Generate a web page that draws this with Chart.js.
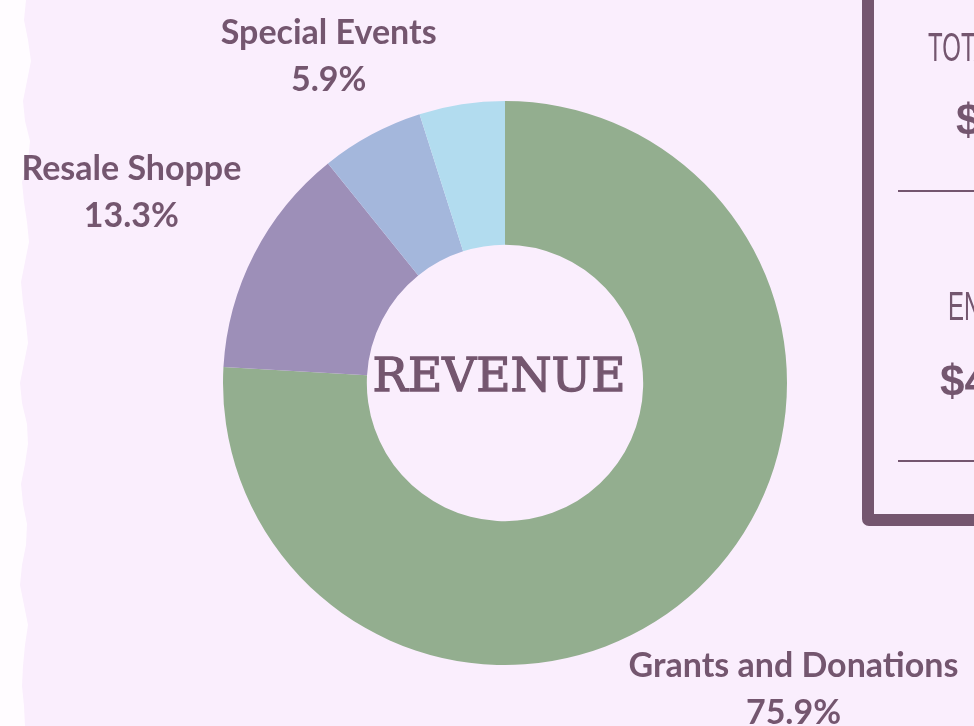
<!DOCTYPE html>
<html>
<head>
<meta charset="utf-8">
<script src="https://cdn.jsdelivr.net/npm/chart.js@4.4.0/dist/chart.umd.min.js"></script>
<style>
  html, body { margin: 0; padding: 0; }
  body { width: 974px; height: 726px; overflow: hidden; background: #faeefd; position: relative; }
  #torn { position: absolute; left: 0; top: 0; width: 40px; height: 726px; background: #fffcff; }
  #wrap { position: absolute; left: 0; top: 0; width: 974px; height: 726px; }
  #box { position: absolute; left: 862px; top: -30px; width: 200px; height: 532px;
         border: 12px solid #74566f; border-radius: 7px; }
  .t { position: absolute; color: #74566f; white-space: nowrap; }
  .thin { font-family: "Liberation Sans", sans-serif; font-size: 40px; transform: scaleX(0.6); transform-origin: left top; font-weight: 300; }
  .money { font-family: "Liberation Sans", sans-serif; font-weight: bold; font-size: 44px; }
  .rule { position: absolute; left: 898px; width: 100px; height: 2px; background: #74566f; }
</style>
</head>
<body>
<div id="torn"></div>
<div id="wrap"><canvas id="chart"></canvas></div>
<div id="box"></div>
<div class="t thin" style="left:928px; top:25px;">TOTAL REVENUE</div>
<div class="t money" style="left:956px; top:95px;">$ 1</div>
<div class="rule" style="top:190px;"></div>
<div class="t thin" style="left:948px; top:284px;">ENDING BALANCE</div>
<div class="t money" style="left:940px; top:356px;">$4</div>
<div class="rule" style="top:460px;"></div>
<script>
// Revenue shares (%)
const categories = ['Grants and Donations', 'Resale Shoppe', 'Special Events', 'Other'];
const values = [75.9, 13.3, 5.9, 4.9];
const showLabel = [true, true, true, false];
const sliceColors = ['#93ae8f', '#9d8fb8', '#a4b7dc', '#b2dcef'];
const centerTitle = 'REVENUE';

// torn paper edge on the left
(function () {
  const xs = [26, 24, 28, 31, 27, 23, 25, 30, 28, 22, 24, 27, 29, 25, 21, 23, 26, 28, 24, 20, 22, 27, 28, 25, 21, 23, 27, 26, 22, 20, 24, 28, 25, 23, 22, 24, 25];
  const step = 726 / (xs.length - 1);
  const pts = ['0 0'];
  xs.forEach((x, i) => pts.push(x + 'px ' + Math.round(i * step) + 'px'));
  pts.push('0 726px');
  document.getElementById('torn').style.clipPath = 'polygon(' + pts.join(',') + ')';
})();

const textColor = '#74566f';

const sliceLabels = {
  id: 'sliceLabels',
  afterDatasetsDraw(chart) {
    const ctx = chart.ctx;
    const arcs = chart.getDatasetMeta(0).data;
    ctx.save();
    ctx.fillStyle = textColor;
    ctx.font = 'bold 34px Lato, sans-serif';
    ctx.textAlign = 'center';
    ctx.textBaseline = 'middle';
    arcs.forEach((arc, i) => {
      if (!showLabel[i]) return;
      const mid = (arc.startAngle + arc.endAngle) / 2;
      let r = arc.outerRadius + 138;
      let y = arc.y + Math.sin(mid) * r;
      if (y < 55) {
        r = (arc.y - 55) / -Math.sin(mid);
      }
      const x = arc.x + Math.cos(mid) * r;
      y = arc.y + Math.sin(mid) * r;
      ctx.fillText(categories[i], x, y - 22);
      ctx.fillText(values[i].toFixed(1) + '%', x, y + 25);
    });
    ctx.restore();
  }
};

const centerText = {
  id: 'centerText',
  afterDraw(chart) {
    const ctx = chart.ctx;
    const a = chart.chartArea;
    ctx.save();
    ctx.fillStyle = textColor;
    ctx.strokeStyle = textColor;
    ctx.lineWidth = 1.3;
    ctx.font = '47px "DejaVu Serif", serif';
    ctx.textAlign = 'center';
    ctx.textBaseline = 'alphabetic';
    const cx = (a.left + a.right) / 2 - 6;
    const cy = (a.top + a.bottom) / 2 + 8;
    ctx.fillText(centerTitle, cx, cy);
    ctx.strokeText(centerTitle, cx, cy);
    ctx.restore();
  }
};

const myChart = new Chart(document.getElementById('chart'), {
  type: 'doughnut',
  data: {
    labels: categories,
    datasets: [{
      data: values,
      backgroundColor: sliceColors,
      borderWidth: 0
    }]
  },
  options: {
    responsive: true,
    maintainAspectRatio: false,
    animation: false,
    cutout: '49%',
    layout: { padding: { left: 223, right: 187, top: 101, bottom: 61 } },
    plugins: {
      legend: { display: false },
      tooltip: { enabled: false }
    }
  },
  plugins: [sliceLabels, centerText]
});
</script>
</body>
</html>
